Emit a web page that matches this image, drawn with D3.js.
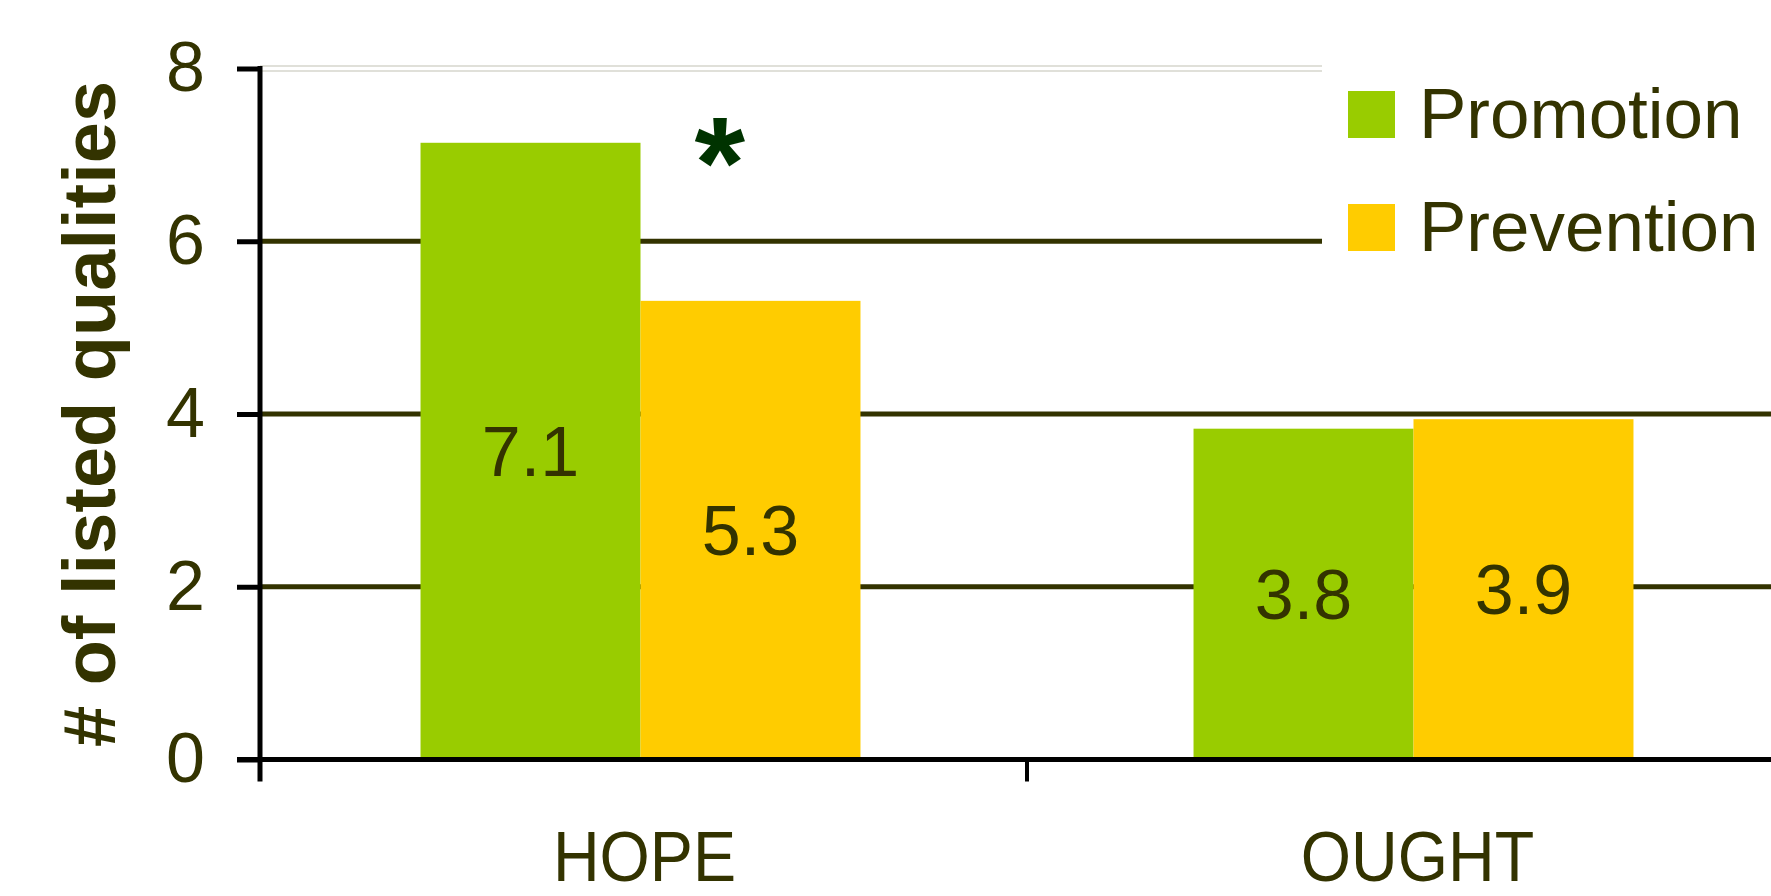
<!DOCTYPE html>
<html>
<head>
<meta charset="utf-8">
<style>
  body { margin: 0; background: #fff; }
  .chart { width: 1771px; height: 896px; position: relative; }
  text { font-family: "Liberation Sans", Arial, sans-serif; }
</style>
</head>
<body>
<div class="chart"></div>

<script src="https://d3js.org/d3.v7.min.js"></script>
<script>
  // data
  const categories = ['HOPE', 'OUGHT']
  const seriesNames = ['Promotion', 'Prevention']
  const promotion = [7.14, 3.83]
  const prevention = [5.31, 3.94]
  const yTicks = [0, 2, 4, 6, 8]
  const yTitle = '# of listed qualities'
  const starCategory = 'HOPE'

  const colors = ['#99cc00', '#ffcc00']
  const textColor = '#333300'

  const width = 1771,
        height = 896

  const svg = d3.select('.chart')
                .append('svg')
                .attr('width', width)
                .attr('height', height)

  // scales
  const yScale = d3.scaleLinear()
                  .domain([0, 8])
                  .range([759.5, 68.5])

  const xScale = d3.scaleBand()
                  .domain(categories)
                  .range([254, 1800])

  const xInner = d3.scaleBand()
                  .domain(seriesNames)
                  .range([0, xScale.bandwidth()])
                  .paddingOuter(0.757)

  const axisX = 260

  // rows for the bars
  const rows = []
  categories.forEach((c, i) => {
    rows.push({ cat: c, name: seriesNames[0], value: promotion[i] })
    rows.push({ cat: c, name: seriesNames[1], value: prevention[i] })
  })
  const color = d3.scaleOrdinal().domain(seriesNames).range(colors)

  // gridlines 2,4,6 (dark) and the light double line at the top
  svg.append('g')
    .selectAll('line')
    .data(yTicks.filter(d => d > 0 && d < 8))
    .join('line')
    .attr('x1', axisX)
    .attr('x2', width)
    .attr('y1', d => yScale(d))
    .attr('y2', d => yScale(d))
    .attr('stroke', textColor)
    .attr('stroke-width', 5)

  svg.append('g')
    .selectAll('line')
    .data([-2.5, 2.5])
    .join('line')
    .attr('x1', axisX)
    .attr('x2', width)
    .attr('y1', d => yScale(8) + d)
    .attr('y2', d => yScale(8) + d)
    .attr('stroke', '#d6d6cc')
    .attr('stroke-width', 1.5)

  // bars
  svg.append('g')
    .selectAll('rect')
    .data(rows)
    .join('rect')
    .attr('x', d => xScale(d.cat) + xInner(d.name))
    .attr('y', d => yScale(d.value))
    .attr('width', xInner.bandwidth())
    .attr('height', d => yScale(0) - yScale(d.value))
    .attr('fill', d => color(d.name))

  // value labels in the middle of each bar
  svg.append('g')
    .selectAll('text')
    .data(rows)
    .join('text')
    .attr('x', d => xScale(d.cat) + xInner(d.name) + xInner.bandwidth() / 2)
    .attr('y', d => (yScale(d.value) + yScale(0)) / 2)
    .attr('dy', '0.358em')
    .attr('text-anchor', 'middle')
    .attr('font-size', 70)
    .attr('fill', textColor)
    .text(d => d3.format('.1f')(d.value))

  // y axis
  const yAxis = d3.axisLeft(yScale)
                  .tickValues(yTicks)
                  .tickSize(23)
                  .tickPadding(32)
                  .tickSizeOuter(0)

  const yAxisGroup = svg.append('g')
                        .attr('transform', `translate(${axisX},0)`)
                        .call(yAxis)
  yAxisGroup.select('.domain').remove()
  yAxisGroup.selectAll('.tick line')
    .attr('stroke', '#000')
    .attr('stroke-width', 5)
  yAxisGroup.selectAll('.tick text')
    .attr('font-size', 70)
    .attr('font-family', '"Liberation Sans", Arial, sans-serif')
    .attr('fill', textColor)

  // zero line + vertical axis line
  svg.append('line')
    .attr('x1', axisX - 23)
    .attr('x2', width)
    .attr('y1', yScale(0))
    .attr('y2', yScale(0))
    .attr('stroke', '#000')
    .attr('stroke-width', 5)

  svg.append('line')
    .attr('x1', axisX)
    .attr('x2', axisX)
    .attr('y1', yScale(8) - 2.5)
    .attr('y2', yScale(0) + 22)
    .attr('stroke', '#000')
    .attr('stroke-width', 5)

  // x ticks between categories
  svg.append('g')
    .selectAll('line')
    .data(categories.slice(1))
    .join('line')
    .attr('x1', d => xScale(d))
    .attr('x2', d => xScale(d))
    .attr('y1', yScale(0))
    .attr('y2', yScale(0) + 22)
    .attr('stroke', '#000')
    .attr('stroke-width', 4)

  // category labels
  svg.append('g')
    .selectAll('text')
    .data(categories)
    .join('text')
    .attr('transform', d => `translate(${xScale(d) + xScale.bandwidth() / 2 + 4},881) scale(0.91,1)`)
    .attr('text-anchor', 'middle')
    .attr('font-size', 71)
    .attr('fill', textColor)
    .text(d => d)

  // y title
  svg.append('text')
    .attr('transform', `translate(115,414) rotate(-90)`)
    .attr('text-anchor', 'middle')
    .attr('font-size', 74)
    .attr('font-weight', 'bold')
    .attr('fill', textColor)
    .text(yTitle)

  // significance star
  const starIdx = categories.indexOf(starCategory)
  svg.append('text')
    .attr('x', xScale(starCategory) + xInner(seriesNames[1]) + xInner.bandwidth() * 0.36)
    .attr('y', yScale(d3.max([promotion[starIdx], prevention[starIdx]])))
    .attr('dy', '0.5em')
    .attr('text-anchor', 'middle')
    .attr('font-size', 130)
    .attr('font-weight', 'bold')
    .attr('fill', '#003300')
    .text('*')

  // legend (white box hides the lines behind it)
  const legend = svg.append('g')
                    .attr('transform', 'translate(1322,60)')
  legend.append('rect')
    .attr('width', width - 1322)
    .attr('height', 240)
    .attr('fill', '#fff')

  const items = legend.selectAll('g')
                      .data(seriesNames)
                      .join('g')
                      .attr('transform', (d, i) => `translate(26,${31 + i * 113})`)
  items.append('rect')
    .attr('width', 47)
    .attr('height', 47)
    .attr('fill', d => color(d))
  items.append('text')
    .attr('x', 71)
    .attr('y', 47)
    .attr('font-size', 71)
    .attr('fill', textColor)
    .text(d => d)
</script>
</body>
</html>
